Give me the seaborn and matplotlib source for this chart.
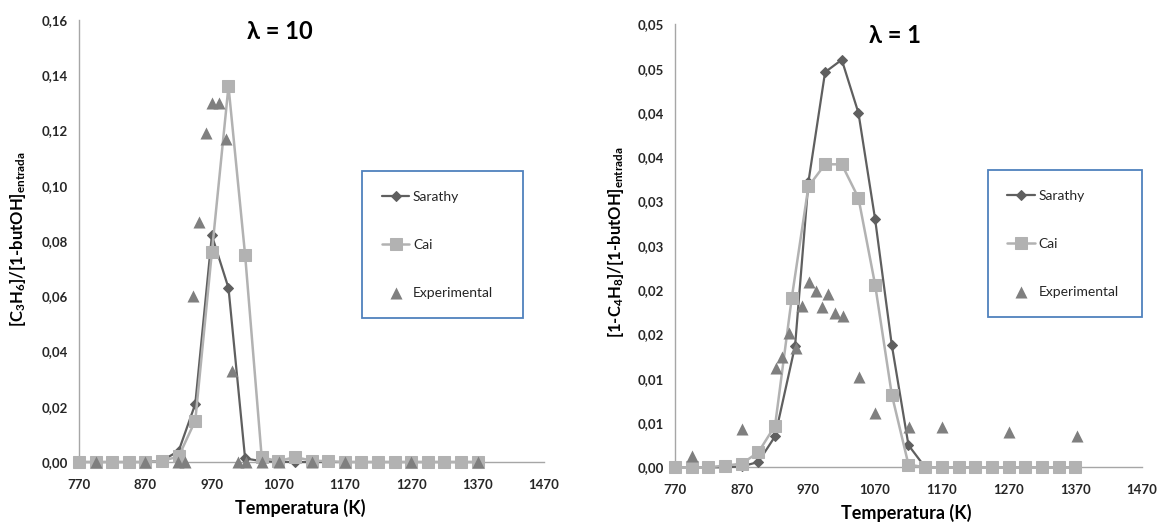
import matplotlib
matplotlib.use("Agg")
import matplotlib.pyplot as plt
import seaborn as sns
import numpy as np

# ---------------- data ----------------
# Left panel (lambda = 10): C3H6
temps_model = [770, 795, 820, 845, 870, 895, 920, 945, 970, 995, 1020, 1045, 1070,
               1095, 1120, 1145, 1170, 1195, 1220, 1245, 1270, 1295, 1320, 1345, 1370]
sarathy_c3h6 = [0, 0, 0, 0, 0, 0.0005, 0.004, 0.021, 0.082, 0.063, 0.0013, 0.0003, 0.0001,
                0, 0, 0, 0, 0, 0, 0, 0, 0, 0, 0, 0]
cai_c3h6 = [0, 0, 0, 0, 0, 0.0004, 0.002, 0.015, 0.076, 0.136, 0.075, 0.0017, 0.0003,
            0.0018, 0.0005, 0.0003, 0, 0, 0, 0, 0, 0, 0, 0, 0]
temps_exp_c3h6 = [795, 870, 919, 929, 942, 951, 961, 970, 981, 991, 1001, 1010, 1022,
                  1045, 1071, 1120, 1170, 1270, 1370]
exp_c3h6 = [0, 0, 0, 0, 0.060, 0.087, 0.119, 0.130, 0.130, 0.117, 0.033, 0, 0,
            0, 0, 0, 0, 0, 0]

# Right panel (lambda = 1): 1-C4H8
temps_sarathy_c4h8 = [770, 795, 820, 845, 870, 895, 920, 950, 970, 995, 1020, 1045, 1070,
                      1095, 1120, 1145, 1170, 1195, 1220, 1245, 1270, 1295, 1320, 1345, 1370]
sarathy_c4h8 = [0, 0, 0, 0, 0.0001, 0.0006, 0.0035, 0.0137, 0.0322, 0.0446, 0.046, 0.040,
                0.028, 0.0138, 0.0025, 0, 0, 0, 0, 0, 0, 0, 0, 0, 0]
cai_c4h8 = [0, 0, 0, 0.0002, 0.0004, 0.0017, 0.0047, 0.0191, 0.0317, 0.0342, 0.0342, 0.0304,
            0.0206, 0.0082, 0.0003, 0, 0, 0, 0, 0, 0, 0, 0, 0, 0]
temps_exp_c4h8 = [795, 871, 921, 931, 941, 951, 961, 971, 981, 991, 1000, 1010, 1022,
                  1046, 1070, 1121, 1170, 1271, 1372]
exp_c4h8 = [0.0013, 0.0043, 0.0112, 0.0124, 0.0152, 0.0135, 0.0182, 0.0209, 0.0199, 0.0181,
            0.0196, 0.0174, 0.0171, 0.0102, 0.0061, 0.0046, 0.0046, 0.0040, 0.0035]

x_ticks = [770, 870, 970, 1070, 1170, 1270, 1370, 1470]
y_ticks_left = [0.00, 0.02, 0.04, 0.06, 0.08, 0.10, 0.12, 0.14, 0.16]
y_ticklabels_left = ["0,00", "0,02", "0,04", "0,06", "0,08", "0,10", "0,12", "0,14", "0,16"]
y_ticks_right = [0.000, 0.005, 0.010, 0.015, 0.020, 0.025, 0.030, 0.035, 0.040, 0.045, 0.050]
y_ticklabels_right = ["0,00", "0,01", "0,01", "0,02", "0,02", "0,03", "0,03", "0,04", "0,04",
                      "0,05", "0,05"]

# ---------------- style ----------------
sns.set_theme(style="white")
plt.rcParams["font.family"] = ["Lato", "DejaVu Sans"]
plt.rcParams["mathtext.default"] = "regular"

C_SAR = "#5f5f5f"
C_CAI = "#b2b2b2"
C_EXP = "#7f7f7f"
C_AX = "#a6a6a6"
C_LEG = "#4f81bd"

fig = plt.figure(figsize=(11.57, 5.23), dpi=100)
ax1 = fig.add_axes([0.0683, 0.1166, 0.4019, 0.8452])
ax2 = fig.add_axes([0.5834, 0.1065, 0.4036, 0.8470])


def draw(ax, t_s, s, t_c, c, t_e, e, yticks, yticklabels, ylim, ylabel, title,
         title_x, legend_bbox, xlabel_x):
    sns.lineplot(x=t_s, y=s, ax=ax, color=C_SAR, marker="D", markersize=5.5,
                 markeredgecolor=C_SAR, linewidth=1.6, label="Sarathy", clip_on=False,
                 zorder=3)
    sns.lineplot(x=t_c, y=c, ax=ax, color=C_CAI, marker="s", markersize=8.5,
                 markeredgecolor=C_CAI, linewidth=1.8, label="Cai", clip_on=False,
                 zorder=4)
    sns.scatterplot(x=t_e, y=e, ax=ax, color=C_EXP, marker="^", s=75, linewidth=0,
                    label="Experimental", clip_on=False, zorder=5)
    ax.set_xlim(770, 1470)
    ax.set_ylim(*ylim)
    ax.set_xticks(x_ticks)
    ax.set_xticklabels([str(v) for v in x_ticks])
    ax.set_yticks(yticks)
    ax.set_yticklabels(yticklabels)
    for sp in ["top", "right"]:
        ax.spines[sp].set_visible(False)
    for sp in ["left", "bottom"]:
        ax.spines[sp].set_color(C_AX)
        ax.spines[sp].set_linewidth(1.0)
    ax.tick_params(axis="both", which="major", direction="out", length=4, width=1.0,
                   color=C_AX, labelsize=9.5, labelcolor="#262626")
    ax.tick_params(axis="y", pad=4)
    ax.tick_params(axis="x", pad=8)
    for lab in ax.get_xticklabels() + ax.get_yticklabels():
        lab.set_fontweight("bold")
    ax.set_xlabel("Temperatura (K)", fontsize=13, fontweight="bold", color="black",
                  va="center")
    ax.xaxis.set_label_coords(xlabel_x, -0.104)
    ax.set_ylabel(ylabel, fontsize=12, fontweight="bold", color="black", va="center")
    ax.text(title_x, 0.975, title, transform=ax.transAxes, ha="center", va="center",
            fontsize=17, fontweight="bold", family=["Lato", "DejaVu Sans"], color="black")
    leg = ax.legend(loc="upper left", bbox_to_anchor=legend_bbox, mode="expand",
                    borderaxespad=0, frameon=True, fancybox=False, fontsize=10,
                    labelspacing=2.6, borderpad=1.4, handlelength=2.0,
                    handletextpad=0.25)
    fr = leg.get_frame()
    fr.set_edgecolor(C_LEG)
    fr.set_linewidth(1.3)
    fr.set_facecolor("white")
    fr.set_alpha(1)
    for t in leg.get_texts():
        t.set_color("#262626")


draw(ax1, temps_model, sarathy_c3h6, temps_model, cai_c3h6, temps_exp_c3h6, exp_c3h6,
     y_ticks_left, y_ticklabels_left, (0, 0.16),
     r"[C$_{3}$H$_{6}$]/[1-butOH]$_{entrada}$", "λ = 10", 0.432,
     (0.609, 0.31, 0.346, 0.348), 0.475)
ax1.yaxis.set_label_coords(-0.131, 0.505)

draw(ax2, temps_sarathy_c4h8, sarathy_c4h8, temps_model, cai_c4h8, temps_exp_c4h8, exp_c4h8,
     y_ticks_right, y_ticklabels_right, (0, 0.05),
     r"[1-C$_{4}$H$_{8}$]/[1-butOH]$_{entrada}$", "λ = 1", 0.471,
     (0.670, 0.333, 0.330, 0.338), 0.495)
ax2.yaxis.set_label_coords(-0.126, 0.508)

fig.savefig("out.png", dpi=100)
